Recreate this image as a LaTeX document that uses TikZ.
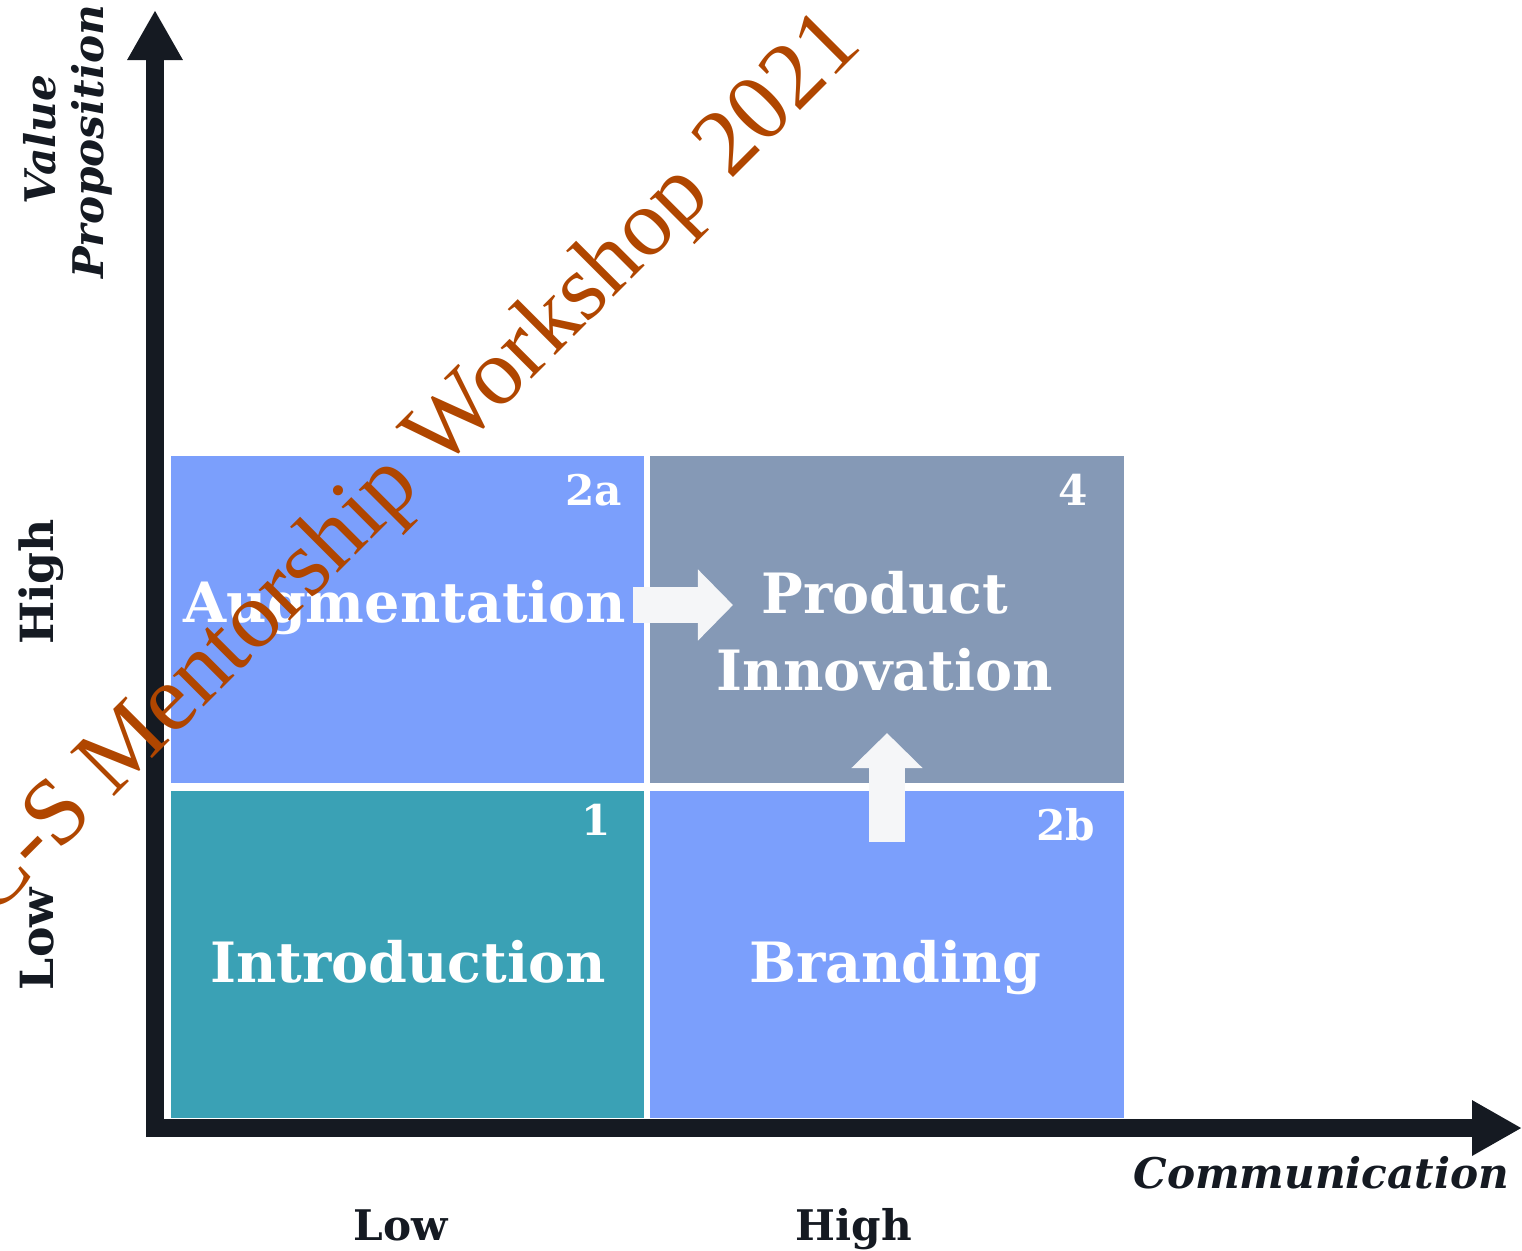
\documentclass[tikz,border=0pt]{standalone}
\usepackage{fontspec}
\setmainfont{DejaVu Serif}
\newfontfamily\markfont{Liberation Serif}
\usepackage{xcolor}
\usetikzlibrary{arrows.meta,positioning}

\definecolor{axisdark}{HTML}{151A22}
\definecolor{augblue}{HTML}{7B9FFC}
\definecolor{innogrey}{HTML}{8599B6}
\definecolor{introteal}{HTML}{3AA1B5}
\definecolor{markbrown}{HTML}{B04600}
\definecolor{arrowwhite}{HTML}{F5F6F8}

\begin{document}
\begin{tikzpicture}[
    x=0.01cm, y=-0.01cm,
    quadrant/.style={rectangle, draw=white, line width=0.03cm, minimum width=4.76cm, minimum height=3.3cm, inner sep=0pt},
    qtext/.style={text=white, font=\bfseries\fontsize{15.8}{21.9}\selectfont, align=center, anchor=base, inner sep=0pt},
    numlabel/.style={text=white, font=\bfseries\fontsize{12}{14}\selectfont, anchor=base east, inner sep=0pt},
    axislabel/.style={text=axisdark, font=\bfseries\fontsize{12}{14}\selectfont, anchor=base, inner sep=0pt},
    sidelabel/.style={axislabel, font=\bfseries\fontsize{13}{15}\selectfont, rotate=90},
    axis/.style={axisdark, line width=0.175cm, -{Triangle[width=0.52cm, length=0.5cm]}},
    blockarrow/.style={arrowwhite, line width=0.36cm, -{Triangle[width=0.69cm, length=0.35cm]}}
]
\useasboundingbox (0,0) rectangle (1522,1250);

% Quadrants
\node[quadrant, fill=augblue, anchor=north west] (aug) at (168,453) {};
\node[quadrant, fill=innogrey, right=0cm of aug] (inno) {};
\node[quadrant, fill=introteal, below=0.02cm of aug] (intro) {};
\node[quadrant, fill=augblue, right=0cm of intro] (brand) {};

% Quadrant texts
\node[qtext] (augtext) at (405,622) {Augmentation};
\node[qtext] (innotext) at (885,690) {Product\\Innovation};
\node[qtext] (introtext) at (408,982) {Introduction};
\node[qtext] (brandtext) at (895,982) {Branding};

% Numbers
\node[numlabel] (num2a) at (623,505) {2a};
\node[numlabel] (num4) at (1089,505) {4};
\node[numlabel] (num1) at (612,835) {1};
\node[numlabel] (num2b) at (1096,840) {2b};

% Block arrows
\coordinate (rstart) at (633,605);
\coordinate (rend) at (733,605);
\coordinate (ustart) at (887,842);
\coordinate (uend) at (887,733);
\draw[blockarrow] (rstart) -- (rend);
\draw[blockarrow] (ustart) -- (uend);

% Axes
\coordinate (ybottom) at (155,1137);
\coordinate (ytop) at (155,10);
\coordinate (xleft) at (147,1128);
\coordinate (xright) at (1522,1128);
\draw[axis] (ybottom) -- (ytop);
\draw[axis] (xleft) -- (xright);

% Axis labels
\node[axislabel, font=\bfseries\itshape\fontsize{12}{14}\selectfont, anchor=base east] (xname) at (1510,1188) {Communication};
\node[axislabel] (xlow) at (401,1240) {Low};
\node[axislabel] (xhigh) at (854,1240) {High};
\node[sidelabel, font=\bfseries\itshape\fontsize{12}{14}\selectfont] (yname1) at (55,140) {Value};
\node[sidelabel, font=\bfseries\itshape\fontsize{12}{14}\selectfont] (yname2) at (103,142) {Proposition};
\node[sidelabel] (yhigh) at (53,582) {High};
\node[sidelabel] (ylow) at (53,939) {Low};

% Watermark
\node[text=markbrown, font=\markfont\fontsize{27}{30}\selectfont, rotate=45, anchor=base east, inner sep=0pt] (mark) at (865,46) {C-S Mentorship Workshop 2021};
\end{tikzpicture}
\end{document}
